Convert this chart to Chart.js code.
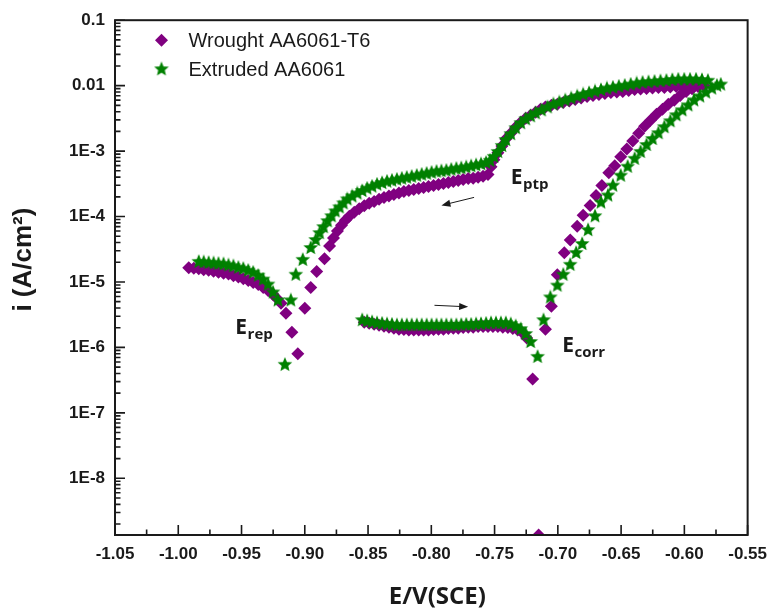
<!DOCTYPE html>
<html>
<head>
<meta charset="utf-8">
<script src="https://cdn.jsdelivr.net/npm/chart.js@4.4.1/dist/chart.umd.min.js"></script>
<style>html,body{margin:0;padding:0;background:#fff}canvas{display:block}</style>
</head>
<body>
<canvas id="chart" width="776" height="616"></canvas>
<script>
const seriesNames = ['Wrought AA6061-T6', 'Extruded AA6061'];
const xTitle = 'E/V(SCE)';
const yTitle = 'i (A/cm²)';

// Wrought AA6061-T6: potential (V vs SCE) and current density (A/cm2), in scan order
const wroughtE = [
  -0.853, -0.8491, -0.8452, -0.8413, -0.8374, -0.8335, -0.8296, -0.8256, -0.8217, -0.8178,
  -0.8139, -0.81, -0.8061, -0.8022, -0.7982, -0.7943, -0.7904, -0.7865, -0.7826, -0.7787,
  -0.7748, -0.7708, -0.7669, -0.763, -0.7591, -0.7552, -0.7513, -0.7474, -0.7435, -0.7395,
  -0.7356, -0.7317, -0.7278, -0.7246, -0.7199, -0.7152, -0.7098, -0.7051, -0.7004, -0.6949,
  -0.6902, -0.6847, -0.68, -0.6745, -0.6698, -0.6652, -0.6597, -0.655, -0.6503, -0.6455,
  -0.6408, -0.6361, -0.6314, -0.6267, -0.622, -0.6173, -0.6127, -0.608, -0.6033, -0.5986,
  -0.5939, -0.5892, -0.5845,
  -0.5924, -0.597, -0.6017, -0.6064, -0.6111, -0.6158, -0.6205, -0.6252, -0.6299, -0.6346,
  -0.6393, -0.644, -0.6487, -0.6534, -0.6581, -0.6628, -0.6675, -0.6722, -0.6769, -0.6816,
  -0.6863, -0.691, -0.6957, -0.7004, -0.7051, -0.7098, -0.7137, -0.7176, -0.7215, -0.7254,
  -0.7293, -0.7333, -0.7372, -0.7411, -0.7442, -0.7474, -0.7505, -0.7528,
  -0.7552, -0.7591, -0.763, -0.7669, -0.7708, -0.7748, -0.7787, -0.7826, -0.7865, -0.7904,
  -0.7943, -0.7982, -0.8022, -0.8061, -0.81, -0.8139, -0.8178, -0.8217, -0.8256, -0.8296,
  -0.8335, -0.8374, -0.8413, -0.8452, -0.8491, -0.853, -0.857, -0.8609, -0.8648, -0.8679,
  -0.871, -0.8742, -0.8773, -0.8804, -0.8844, -0.8906, -0.8953, -0.9, -0.9055, -0.9102,
  -0.9149, -0.9188, -0.922, -0.9251, -0.929, -0.9329, -0.9368, -0.9408, -0.9447, -0.9486,
  -0.9525, -0.9564, -0.9603, -0.9642, -0.9682, -0.9721, -0.976, -0.9799, -0.9838, -0.9877,
  -0.9917
];
const wroughtI = [
  2.43e-6, 2.35e-6, 2.26e-6, 2.19e-6, 2.11e-6, 2.04e-6, 1.97e-6, 1.9e-6, 1.87e-6, 1.84e-6,
  1.84e-6, 1.84e-6, 1.84e-6, 1.84e-6, 1.87e-6, 1.9e-6, 1.9e-6, 1.94e-6, 1.97e-6, 1.97e-6,
  2.01e-6, 2.04e-6, 2.04e-6, 2.08e-6, 2.08e-6, 2.08e-6, 2.08e-6, 2.08e-6, 2.04e-6, 2.01e-6,
  1.94e-6, 1.84e-6, 1.66e-6, 1.39e-6, 3.3e-7, 1.36e-9, 1.9e-6, 4.25e-6, 1.29e-5, 2.79e-5,
  4.37e-5, 7.1e-5, 1.05e-4, 1.48e-4, 2.1e-4, 2.97e-4, 4.68e-4, 5.97e-4, 8.17e-4, 1.08e-3,
  1.43e-3, 1.88e-3, 2.4e-3, 2.96e-3, 3.65e-3, 4.35e-3, 5.18e-3, 5.96e-3, 7.1e-3, 8.15e-3,
  9.0e-3, 9.7e-3, 1.0e-2,
  9.7e-3, 9.7e-3, 9.7e-3, 9.7e-3, 9.5e-3, 9.35e-3, 9.35e-3, 9.2e-3, 9.05e-3, 8.9e-3,
  8.74e-3, 8.44e-3, 8.15e-3, 8.0e-3, 7.87e-3, 7.6e-3, 7.33e-3, 7.08e-3, 6.84e-3, 6.49e-3,
  6.16e-3, 5.85e-3, 5.55e-3, 5.2e-3, 5.0e-3, 4.7e-3, 4.35e-3, 3.92e-3, 3.53e-3, 3.18e-3,
  2.77e-3, 2.32e-3, 1.88e-3, 1.53e-3, 1.2e-3, 9.4e-4, 7.36e-4, 5.77e-4,
  4.37e-4, 4.14e-4, 4.0e-4, 3.86e-4, 3.8e-4, 3.67e-4, 3.54e-4, 3.42e-4, 3.3e-4, 3.19e-4,
  3.08e-4, 2.97e-4, 2.87e-4, 2.77e-4, 2.68e-4, 2.59e-4, 2.5e-4, 2.42e-4, 2.29e-4, 2.17e-4,
  2.06e-4, 1.96e-4, 1.83e-4, 1.7e-4, 1.59e-4, 1.46e-4, 1.31e-4, 1.16e-4, 1.01e-4, 8.79e-5,
  7.38e-5, 6.0e-5, 4.7e-5, 3.56e-5, 2.26e-5, 1.44e-5, 8.22e-6, 3.96e-6, 7.98e-7, 1.71e-6,
  3.33e-6, 4.71e-6, 5.61e-6, 6.44e-6, 7.41e-6, 8.22e-6, 9.13e-6, 9.8e-6, 1.05e-5, 1.12e-5,
  1.19e-5, 1.25e-5, 1.32e-5, 1.36e-5, 1.41e-5, 1.46e-5, 1.51e-5, 1.54e-5, 1.59e-5, 1.62e-5,
  1.65e-5
];

// Extruded AA6061
const extrudedE = [
  -0.8546, -0.8507, -0.8468, -0.8429, -0.8389, -0.835, -0.8311, -0.8272, -0.8233, -0.8194,
  -0.8155, -0.8115, -0.8076, -0.8037, -0.7998, -0.7959, -0.792, -0.7881, -0.7842, -0.7802,
  -0.7763, -0.7724, -0.7685, -0.7646, -0.7607, -0.7567, -0.7528, -0.7489, -0.745, -0.7411,
  -0.7372, -0.7333, -0.7293, -0.7254, -0.7215, -0.716, -0.7113, -0.7059, -0.7004, -0.6957,
  -0.6902, -0.6855, -0.6808, -0.6761, -0.6706, -0.6659, -0.6604, -0.6565, -0.6503, -0.6448,
  -0.6393, -0.6346, -0.6299, -0.6252, -0.6205, -0.6158, -0.6111, -0.6064, -0.6017, -0.597,
  -0.5924, -0.5877, -0.583, -0.5783, -0.5743, -0.5712,
  -0.5814, -0.5861, -0.5908, -0.5955, -0.6001, -0.6048, -0.6095, -0.6142, -0.6189, -0.6236,
  -0.6283, -0.633, -0.6377, -0.6424, -0.6471, -0.6518, -0.6565, -0.6612, -0.6659, -0.6706,
  -0.6753, -0.68, -0.6847, -0.6894, -0.6941, -0.6988, -0.7035, -0.7082, -0.7129, -0.7176,
  -0.7215, -0.7254, -0.7293, -0.7333, -0.7372, -0.7411, -0.7442, -0.7474, -0.7505, -0.7536,
  -0.7567, -0.7607, -0.7646, -0.7685, -0.7724, -0.7763, -0.7802, -0.7842, -0.7881, -0.792,
  -0.7959, -0.7998, -0.8037, -0.8076, -0.8115, -0.8155, -0.8194, -0.8233, -0.8272, -0.8311,
  -0.835, -0.8389, -0.8429, -0.8468, -0.8507, -0.8546, -0.8585, -0.8625, -0.8664, -0.8695,
  -0.8726, -0.8758, -0.8789, -0.882, -0.8852, -0.8883, -0.8914, -0.8953, -0.9016, -0.9071,
  -0.911, -0.9157, -0.9212, -0.9251, -0.929, -0.9329, -0.9368, -0.9408, -0.9447, -0.9486,
  -0.9525, -0.9564, -0.9603, -0.9642, -0.9682, -0.9721, -0.976, -0.9799, -0.9838
];
const extrudedI = [
  2.61e-6, 2.52e-6, 2.43e-6, 2.35e-6, 2.31e-6, 2.26e-6, 2.23e-6, 2.19e-6, 2.19e-6, 2.19e-6,
  2.19e-6, 2.19e-6, 2.19e-6, 2.19e-6, 2.19e-6, 2.19e-6, 2.19e-6, 2.19e-6, 2.19e-6, 2.19e-6,
  2.21e-6, 2.23e-6, 2.23e-6, 2.26e-6, 2.28e-6, 2.31e-6, 2.35e-6, 2.35e-6, 2.35e-6, 2.35e-6,
  2.26e-6, 2.11e-6, 1.9e-6, 1.6e-6, 1.21e-6, 7.18e-7, 2.61e-6, 5.81e-6, 8.81e-6, 1.29e-5,
  1.83e-5, 2.78e-5, 3.81e-5, 6.21e-5, 1.01e-4, 1.64e-4, 2.1e-4, 2.97e-4, 4.21e-4, 5.77e-4,
  7.62e-4, 9.72e-4, 1.24e-3, 1.53e-3, 1.88e-3, 2.32e-3, 2.86e-3, 3.53e-3, 4.2e-3, 5.0e-3,
  5.96e-3, 6.84e-3, 7.87e-3, 9.05e-3, 1.0e-2, 1.04e-2,
  1.19e-2, 1.22e-2, 1.24e-2, 1.24e-2, 1.24e-2, 1.24e-2, 1.22e-2, 1.19e-2, 1.17e-2, 1.15e-2,
  1.13e-2, 1.11e-2, 1.08e-2, 1.04e-2, 1.0e-2, 9.7e-3, 9.35e-3, 9.05e-3, 8.58e-3, 8.15e-3,
  7.73e-3, 7.33e-3, 6.84e-3, 6.38e-3, 5.96e-3, 5.55e-3, 5.18e-3, 4.67e-3, 4.2e-3, 3.79e-3,
  3.41e-3, 3.07e-3, 2.67e-3, 2.24e-3, 1.82e-3, 1.48e-3, 1.2e-3, 9.72e-4, 8.17e-4, 7.11e-4,
  6.63e-4, 6.3e-4, 6.08e-4, 5.87e-4, 5.66e-4, 5.47e-4, 5.38e-4, 5.2e-4, 5.02e-4, 4.93e-4,
  4.85e-4, 4.68e-4, 4.52e-4, 4.37e-4, 4.21e-4, 4.07e-4, 3.93e-4, 3.8e-4, 3.67e-4, 3.54e-4,
  3.42e-4, 3.25e-4, 3.08e-4, 2.87e-4, 2.68e-4, 2.46e-4, 2.25e-4, 2.03e-4, 1.83e-4, 1.59e-4,
  1.38e-4, 1.2e-4, 1.01e-4, 8.49e-5, 6.89e-5, 5.58e-5, 4.38e-5, 3.31e-5, 2.18e-5, 1.29e-5,
  5.24e-6, 5.43e-7, 5.24e-6, 6.92e-6, 9.13e-6, 1.09e-5, 1.25e-5, 1.39e-5, 1.49e-5, 1.59e-5,
  1.65e-5, 1.74e-5, 1.8e-5, 1.87e-5, 1.9e-5, 1.93e-5, 1.96e-5, 2.0e-5, 2.03e-5
];

const xTicks = [-1.05, -1.0, -0.95, -0.9, -0.85, -0.8, -0.75, -0.7, -0.65, -0.6, -0.55];
const yTicks = [1e-8, 1e-7, 1e-6, 1e-5, 1e-4, 1e-3, 1e-2, 1e-1];
const yTickLabels = ['1E-8', '1E-7', '1E-6', '1E-5', '1E-4', '1E-3', '0.01', '0.1'];

const PURPLE = '#800080';
const GREEN = '#008000';
const INK = '#1a1a1a';
const SANS = 'Arial, "Liberation Sans", sans-serif';
const HUMAN = '"Open Sans", "Noto Sans", sans-serif';

function makeStar(size, color) {
  const c = document.createElement('canvas');
  c.width = c.height = size;
  const g = c.getContext('2d');
  const R = size / 2 - 0.3, r = R * 0.45;
  g.beginPath();
  for (let k = 0; k < 10; k++) {
    const a = -Math.PI / 2 + k * Math.PI / 5;
    const rad = k % 2 ? r : R;
    g.lineTo(size / 2 + rad * Math.cos(a), size / 2 + rad * Math.sin(a));
  }
  g.closePath();
  g.fillStyle = color;
  g.fill();
  return c;
}
const star = makeStar(16, GREEN);

const toPoints = (xs, ys) => xs.map((x, i) => ({ x, y: ys[i] }));

// annotation spots, in data units
const notes = [
  { main: 'E', sub: 'rep', x: -0.9549, y: 1.6e-6 },
  { main: 'E', sub: 'corr', x: -0.6965, y: 8.55e-7 },
  { main: 'E', sub: 'ptp', x: -0.7372, y: 3.19e-4 }
];
const arrows = [
  { from: [-0.7662, 1.96e-4], to: [-0.792, 1.48e-4] },
  { from: [-0.7975, 4.4e-6], to: [-0.7709, 4.17e-6] }
];

function drawArrow(ctx, x1, y1, x2, y2) {
  const ang = Math.atan2(y2 - y1, x2 - x1), L = 9, W = 3.5;
  ctx.beginPath();
  ctx.moveTo(x1, y1);
  ctx.lineTo(x2 - L * 0.8 * Math.cos(ang), y2 - L * 0.8 * Math.sin(ang));
  ctx.stroke();
  ctx.beginPath();
  ctx.moveTo(x2, y2);
  ctx.lineTo(x2 - L * Math.cos(ang) + W * Math.sin(ang), y2 - L * Math.sin(ang) - W * Math.cos(ang));
  ctx.lineTo(x2 - L * Math.cos(ang) - W * Math.sin(ang), y2 - L * Math.sin(ang) + W * Math.cos(ang));
  ctx.closePath();
  ctx.fill();
}

const decor = {
  id: 'decor',
  afterDatasetsDraw(chart) {
    const { ctx, chartArea: a, scales: { x, y } } = chart;
    ctx.save();
    ctx.strokeStyle = INK;
    ctx.fillStyle = INK;

    // inward ticks
    ctx.lineWidth = 1.6;
    ctx.beginPath();
    xTicks.forEach((v, i) => {
      const px = x.getPixelForValue(v);
      ctx.moveTo(px, a.bottom); ctx.lineTo(px, a.bottom - 10);
      if (i < xTicks.length - 1) {
        const mx = x.getPixelForValue(v + 0.025);
        ctx.moveTo(mx, a.bottom); ctx.lineTo(mx, a.bottom - 5.5);
      }
    });
    yTicks.forEach((v) => {
      const py = y.getPixelForValue(v);
      ctx.moveTo(a.left, py); ctx.lineTo(a.left + 10, py);
      for (let k = 2; k <= 9; k++) {
        const mv = v * k / 10;
        if (mv < y.min) continue;
        const my = y.getPixelForValue(mv);
        ctx.moveTo(a.left, my); ctx.lineTo(a.left + 5.5, my);
      }
    });
    ctx.stroke();

    // frame
    ctx.lineWidth = 2;
    ctx.strokeRect(a.left, a.top, a.right - a.left, a.bottom - a.top);

    // legend
    ctx.textBaseline = 'middle';
    ctx.textAlign = 'left';
    ctx.font = '20px ' + SANS;
    ctx.fillStyle = PURPLE;
    ctx.beginPath();
    const lx = a.left + 46.5, ly = a.top + 20;
    ctx.moveTo(lx, ly - 6.5); ctx.lineTo(lx + 6.5, ly); ctx.lineTo(lx, ly + 6.5); ctx.lineTo(lx - 6.5, ly);
    ctx.closePath(); ctx.fill();
    ctx.drawImage(star, lx - 8, ly + 29 - 8);
    ctx.fillStyle = INK;
    ctx.fillText(chart.data.datasets[0].label, a.left + 73.5, ly + 1);
    ctx.fillText(chart.data.datasets[1].label, a.left + 73.5, ly + 30);

    // E labels
    ctx.textBaseline = 'alphabetic';
    notes.forEach((n) => {
      const px = x.getPixelForValue(n.x), py = y.getPixelForValue(n.y);
      ctx.font = 'bold 21px ' + HUMAN;
      ctx.fillText(n.main, px, py);
      const w = ctx.measureText(n.main).width;
      ctx.font = 'bold 15px ' + HUMAN;
      ctx.fillText(n.sub, px + w + 0.5, py + 5);
    });

    // scan direction arrows
    ctx.lineWidth = 1;
    arrows.forEach((ar) => {
      drawArrow(ctx,
        x.getPixelForValue(ar.from[0]), y.getPixelForValue(ar.from[1]),
        x.getPixelForValue(ar.to[0]), y.getPixelForValue(ar.to[1]));
    });

    // axis titles
    ctx.textAlign = 'center';
    ctx.textBaseline = 'middle';
    ctx.font = 'bold 24px ' + HUMAN;
    ctx.fillText(xTitle, (a.left + a.right) / 2 + 6, 597);
    ctx.save();
    ctx.translate(24, (a.top + a.bottom) / 2 - 18);
    ctx.rotate(-Math.PI / 2);
    ctx.font = 'bold 26px ' + SANS;
    ctx.fillText(yTitle, 0, 0);
    ctx.restore();
    ctx.restore();
  }
};

new Chart(document.getElementById('chart'), {
  type: 'scatter',
  data: {
    datasets: [
      {
        label: seriesNames[0],
        data: toPoints(wroughtE, wroughtI),
        pointStyle: 'rectRot',
        pointRadius: 6.5,
        backgroundColor: PURPLE,
        borderColor: PURPLE,
        borderWidth: 0,
        order: 1
      },
      {
        label: seriesNames[1],
        data: toPoints(extrudedE, extrudedI),
        pointStyle: star,
        pointRadius: 8,
        backgroundColor: GREEN,
        borderColor: GREEN,
        order: 0
      }
    ]
  },
  options: {
    responsive: false,
    animation: false,
    events: [],
    layout: { padding: { top: 15, right: 22, left: 0, bottom: 0 } },
    plugins: { legend: { display: false }, tooltip: { enabled: false } },
    scales: {
      x: {
        type: 'linear',
        min: -1.05,
        max: -0.55,
        afterBuildTicks: (s) => { s.ticks = xTicks.map((v) => ({ value: v })); },
        afterFit: (s) => { s.height = 81; },
        grid: { display: false, drawTicks: false },
        border: { display: false },
        ticks: {
          autoSkip: false,
          maxRotation: 0,
          padding: 9,
          color: INK,
          font: { family: SANS, size: 17, weight: 'bold' },
          callback: (v) => Number(v).toFixed(2)
        }
      },
      y: {
        type: 'logarithmic',
        min: 1.36e-9,
        max: 0.1,
        afterBuildTicks: (s) => { s.ticks = yTicks.map((v) => ({ value: v })); },
        afterFit: (s) => { s.width = 115; },
        grid: { display: false, drawTicks: false },
        border: { display: false },
        ticks: {
          autoSkip: false,
          padding: 10,
          color: INK,
          font: { family: SANS, size: 17, weight: 'bold' },
          callback: (v, i) => yTickLabels[i]
        }
      }
    }
  },
  plugins: [decor]
});
</script>
</body>
</html>
